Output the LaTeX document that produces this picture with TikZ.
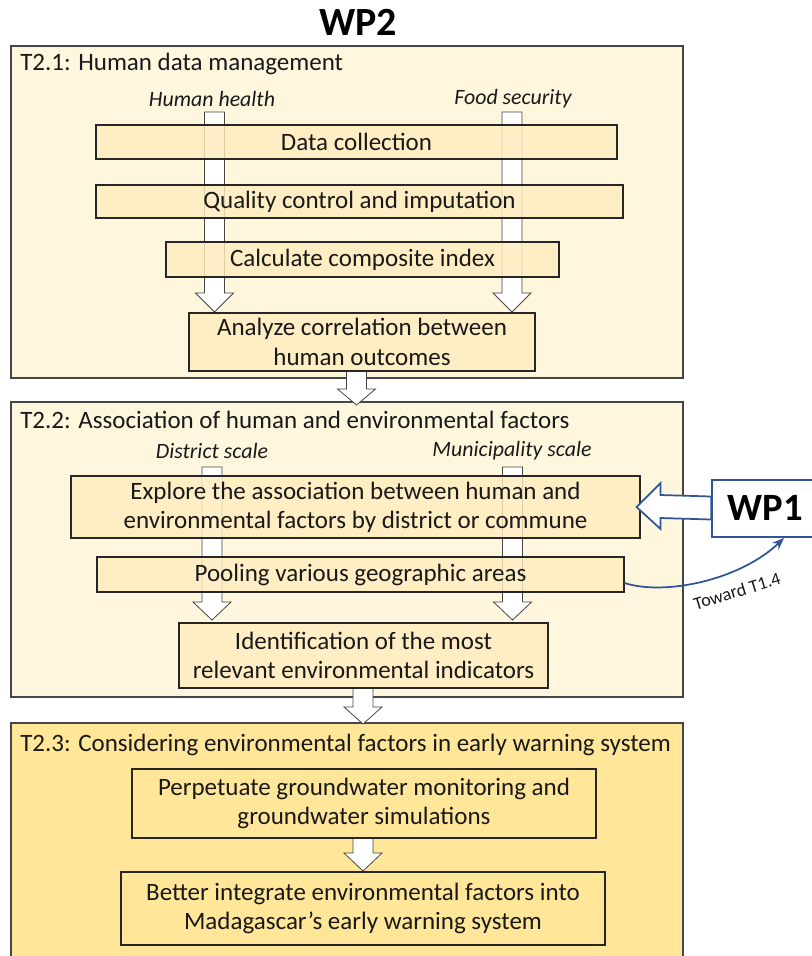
\documentclass[tikz,border=0pt]{standalone}
\usepackage{fontspec}
\setmainfont{Carlito}
\usetikzlibrary{calc,arrows.meta}
\definecolor{bgA}{RGB}{255,246,222}
\definecolor{bgC}{RGB}{255,230,153}
\definecolor{inA}{RGB}{255,236,190}
\definecolor{wpblue}{RGB}{47,85,151}
\definecolor{edgec}{RGB}{70,70,70}
\definecolor{txt}{RGB}{25,25,25}
\newcommand\mainsz{\fontsize{18.75}{21.9}\selectfont}
\newcommand\labsz{\fontsize{16.4}{19}\selectfont\itshape}
\newcommand\blkdown[4]{\draw[blk] (#1-10,#2) -- (#1+10,#2) -- (#1+10,#3) -- (#1+19,#3) -- (#1,#4) -- (#1-19,#3) -- (#1-10,#3) -- cycle;}
% \rbox[style]{name}{x1}{y1}{x2}{y2}{text}
\newcommand\rbox[7][]{\node[#1,minimum width={(#5-#3)*0.75pt},minimum height={(#6-#4)*0.75pt}] (#2) at ({(#3+#5)/2},{(#4+#6)/2}) {#7};}
\begin{document}
\begin{tikzpicture}[x=0.75pt,y=-0.75pt,
  outer/.style={draw=edgec,line width=1.1pt,inner sep=0pt},
  ibox/.style={draw=black!85,line width=0.8pt,fill=inA,fill opacity=0.82,text opacity=1,inner sep=0pt,align=center,font=\mainsz,text=txt},
  cbox/.style={draw=black!85,line width=0.8pt,fill=bgC,fill opacity=0.85,text opacity=1,inner sep=0pt,align=center,font=\mainsz,text=txt},
  ttl/.style={anchor=west,inner sep=0pt,font=\mainsz,text=txt},
  lab/.style={inner sep=0pt,font=\labsz,text=txt},
  blk/.style={draw=edgec,line width=0.6pt,fill=white}]
\useasboundingbox (0,0) rectangle (812,956);
\clip (0,0) rectangle (812,956);
% title
\node[font=\fontsize{30}{36}\selectfont\bfseries,text=black] (wp2) at (358,22) {WP2};
% outer boxes
\rbox[outer,fill=bgA]{b1}{11}{46}{683}{378}{}
\rbox[outer,fill=bgA]{b2}{11}{402}{683}{697}{}
\rbox[outer,fill=bgC]{b3}{11}{723}{683}{970}{}
% titles
\node[ttl] (t1) at (20,64) {T2.1: Human data management};
\node[ttl] (t2) at (20,420) {T2.2: Association of human and environmental factors};
\node[ttl] (t3) at (20,745) {T2.3: Considering environmental factors in early warning system};
% labels
\node[lab] (hh) at (212,99) {Human health};
\node[lab] (fs) at (513,99) {Food security};
\node[lab] (ds) at (212,451) {District scale};
\node[lab] (ms) at (512,451) {Municipality scale};
% block arrows
\blkdown{214.5}{112}{293}{312}
\blkdown{512}{112}{293}{312}
\blkdown{356.5}{371}{389}{405}
\blkdown{212}{467}{602}{620}
\blkdown{512.5}{467}{602}{620}
\blkdown{363}{688}{707}{724}
\blkdown{363}{838}{853}{871}
% inner boxes
\rbox[ibox]{dc}{96}{125}{617}{159}{Data collection}
\rbox[ibox]{qc}{96}{185}{623}{218}{Quality control and imputation}
\rbox[ibox]{ci}{166}{242}{559}{277}{Calculate composite index}
\rbox[ibox]{ac}{189}{313}{535}{371}{Analyze correlation between\\human outcomes}
\rbox[ibox]{ex}{71}{476}{640}{538}{Explore the association between human and\\environmental factors by district or commune}
\rbox[ibox]{po}{97}{557}{624}{592}{Pooling various geographic areas}
\rbox[ibox]{id}{179}{623}{548}{688}{Identification of the most\\relevant environmental indicators}
\rbox[cbox]{pg}{132}{769}{596}{838}{Perpetuate groundwater monitoring and\\groundwater simulations}
\rbox[cbox]{bi}{121}{872}{605}{945}{Better integrate environmental factors into\\Madagascar’s early warning system}
% WP1
\rbox[draw=wpblue,line width=1.3pt,fill=white,inner sep=0pt]{wp1}{712}{480}{830}{537}{}
\node[font=\fontsize{29}{34}\selectfont\bfseries,text=black] (wp1t) at (765,508) {WP1};
\draw[draw=wpblue,line width=1.3pt,fill=white,line join=miter]
  ($(wp1.west)+(0,-12)$) -- ($(ex.east)+(20,-12)$) -- ($(ex.east)+(20,-24)$) -- ($(ex.east)+(-4,0)$)
  -- ($(ex.east)+(20,22)$) -- ($(ex.east)+(20,11)$) -- ($(wp1.west)+(0,11)$) -- cycle;
% curved connector
\coordinate (cs) at ($(po.east)+(0,8.5)$);
\coordinate (ce) at (784,538);
\draw[wpblue,line width=1.3pt,-{Stealth[length=9pt,width=7pt]}] (cs) .. controls (665,596) and (740,580) .. (ce);
\node[font=\fontsize{13.6}{16}\selectfont,text=txt,rotate=17] (tw) at (737,591) {Toward T1.4};
\end{tikzpicture}
\end{document}
